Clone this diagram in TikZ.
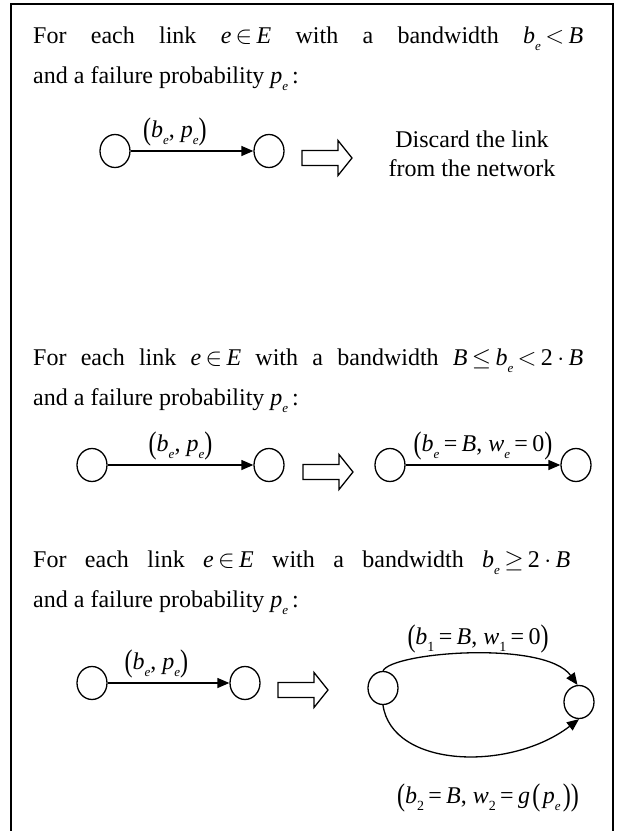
\documentclass[tikz,border=0pt]{standalone}
\usepackage{fontspec}
\setmainfont{Liberation Serif}
\usepackage{graphicx}
\usetikzlibrary{arrows.meta,shapes.geometric}
\newcommand\mv[1]{\textit{#1}}
\newcommand\sbi[1]{\raisebox{-0.3em}{\fontsize{13}{13}\selectfont\textit{#1}}}
\newcommand\sbu[1]{\raisebox{-0.3em}{\fontsize{14}{14}\selectfont #1}}
\newcommand\rl[1]{\kern0.18em#1\kern0.18em}
\newcommand\lp{\raisebox{-0.08em}{\scalebox{1}[1.3]{(}}}
\newcommand\rp{\raisebox{-0.08em}{\scalebox{1}[1.3]{)}}}
\newcommand\harrow[2]{%
  \draw[hollow] (#1,#2-7.5) -- ++(36,0) -- ++(0,-10) -- ++(14,17.5) -- ++(-14,17.5) -- ++(0,-10) -- ++(-36,0) -- cycle;}
\begin{document}
\begin{tikzpicture}[x=1pt,y=-1pt,
  every node/.style={font=\fontsize{24}{28}\selectfont, inner sep=0pt},
  vtx/.style={draw, ellipse, minimum width=30pt, minimum height=33pt, line width=1.3pt},
  lnk/.style={line width=1.3pt, -{Triangle[length=12pt,width=10pt]}},
  hollow/.style={draw, line width=1.3pt, line join=miter},
  lab/.style={font=\fontsize{24}{28}\selectfont, inner sep=1pt},
  frame/.style={line width=1.5pt}]
\useasboundingbox (0,0) rectangle (618,831);
\draw[frame] (11,831) -- (11,4) -- (613,4) -- (613,831);

% Section 1
\node[anchor=base west] (t1a) at (33,43) {\makebox[550pt][s]{For each link \mv{e}\rl{$\in$}\mv{E} with a bandwidth \mv{b}\sbi{e}\rl{$<$}\mv{B}}};
\node[anchor=base west] (t1b) at (33,83) {and a failure probability \mv{p}\sbi{e}\,:};
\node[vtx] (a1) at (115,151) {};
\node[vtx] (b1) at (269,151) {};
\draw[lnk] (a1) -- node[lab, above=3pt, pos=0.36] (l1) {\lp\mv{b}\sbi{e}, \mv{p}\sbi{e}\rp} (b1);
\harrow{302}{158}
\node[anchor=base] (d1a) at (472,147) {Discard the link};
\node[anchor=base] (d1b) at (472,176) {from the network};

% Section 2
\node[anchor=base west] (t2a) at (33,365) {\makebox[550pt][s]{For each link \mv{e}\rl{$\in$}\mv{E} with a bandwidth \mv{B}\rl{$\le$}\mv{b}\sbi{e}\rl{$<$}2\rl{$\cdot$}\mv{B}}};
\node[anchor=base west] (t2b) at (33,405) {and a failure probability \mv{p}\sbi{e}\,:};
\node[vtx] (a2) at (92,465) {};
\node[vtx] (b2) at (269,465) {};
\draw[lnk] (a2) -- node[lab, above=3pt] (l2) {\lp\mv{b}\sbi{e}, \mv{p}\sbi{e}\rp} (b2);
\harrow{303}{472}
\node[vtx] (c2) at (390,465) {};
\node[vtx] (d2) at (576,465) {};
\draw[lnk] (c2) -- node[lab, above=3pt] (m2) {\lp\mv{b}\sbi{e}\rl{=}\mv{B}, \mv{w}\sbi{e}\rl{=}0\rp} (d2);

% Section 3
\node[anchor=base west] (t3a) at (33,567) {\makebox[537pt][s]{For each link \mv{e}\rl{$\in$}\mv{E} with a bandwidth \mv{b}\sbi{e}\rl{$\ge$}2\rl{$\cdot$}\mv{B}}};
\node[anchor=base west] (t3b) at (33,607) {and a failure probability \mv{p}\sbi{e}\,:};
\node[vtx] (a3) at (92,683) {};
\node[vtx] (b3) at (245,683) {};
\draw[lnk] (a3) -- node[lab, above=3pt, pos=0.4] (l3) {\lp\mv{b}\sbi{e}, \mv{p}\sbi{e}\rp} (b3);
\harrow{278}{690}
\node[vtx] (c3) at (383,688) {};
\node[vtx] (d3) at (579,702) {};
\node[lab] (l3t) at (478,639) {\lp\mv{b}\sbu{1}\rl{=}\mv{B}, \mv{w}\sbu{1}\rl{=}0\rp};
\node[lab] (l3b) at (488,798) {\lp\mv{b}\sbu{2}\rl{=}\mv{B}, \mv{w}\sbu{2}\rl{=}\mv{g}\kern0.1em\lp\kern0.1em\mv{p}\sbi{e}\kern0.1em\rp\rp};
\draw[lnk] (c3.north) .. controls (392,652) and (545,640) .. (d3.95);
\draw[lnk] (c3.south) .. controls (392,768) and (510,772) .. (d3.south);
\end{tikzpicture}
\end{document}
